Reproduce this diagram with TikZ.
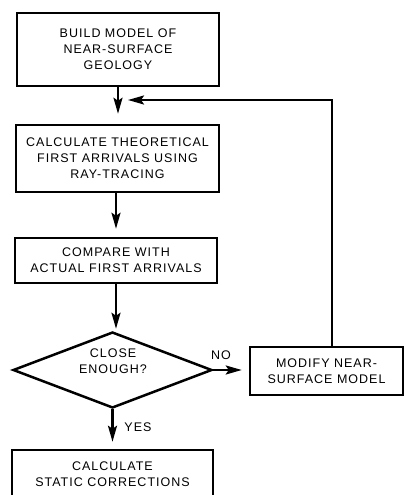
\documentclass[tikz,border=0pt]{standalone}
\usepackage{fontspec}
\newfontfamily\flowfont[LetterSpace=8]{Liberation Sans}
\usetikzlibrary{arrows.meta}
\usetikzlibrary{shapes.geometric}

\tikzset{
  txt/.style={font=\flowfont\fontsize{12.5}{16}\selectfont, align=center, inner sep=0pt},
  stepbox/.style={txt, draw, line width=2.5pt},
  decision/.style={draw, diamond, line width=2.5pt, inner sep=0pt, aspect=2.6},
  flow/.style={line width=2.2pt, -{Stealth[length=16pt,width=9pt,inset=3pt]}},
}

\begin{document}
\begin{tikzpicture}[x=1pt, y=-1pt]
\useasboundingbox (0,0) rectangle (405,495);
% steps
\node[stepbox, minimum width=202, minimum height=73] (build) at (118,49.5) {BUILD MODEL OF\\NEAR-SURFACE\\GEOLOGY};
\node[stepbox, minimum width=203, minimum height=67] (calc) at (117.5,158.5) {CALCULATE THEORETICAL\\FIRST ARRIVALS USING\\RAY-TRACING};
\node[stepbox, minimum width=202, minimum height=45] (comp) at (116,260.5) {COMPARE WITH\\ACTUAL FIRST ARRIVALS};
\node[decision, minimum width=199, minimum height=76] (close) at (112.5,370) {};
\node[txt] (closetxt) at (113,361) {CLOSE\\ENOUGH?};
\node[stepbox, minimum width=153, minimum height=48] (modify) at (326.5,371) {MODIFY NEAR-\\SURFACE MODEL};
\node[stepbox, minimum width=201, minimum height=49] (statics) at (112.5,474.5) {CALCULATE\\STATIC CORRECTIONS};
\coordinate (merge) at (118,100);

% connectors
\draw[flow, shorten >=10pt] (build.south) -- (build.south |- calc.north);
\draw[flow, shorten >=8pt] (calc.south -| comp.north) -- (comp.north);
\draw[flow, shorten >=2pt] (comp.south) -- (comp.south |- close.north);
\draw[flow, shorten >=7pt] (close.south) -- (close.south |- statics.north);
\draw[flow, shorten >=7pt] (close.east) -- (close.east -| modify.west);
\draw[flow, shorten >=10pt] ([xshift=5.5pt]modify.north) |- (merge);

\node[txt] (no) at (221,355) {NO};
\node[txt] (yes) at (138,427) {YES};
\end{tikzpicture}
\end{document}
